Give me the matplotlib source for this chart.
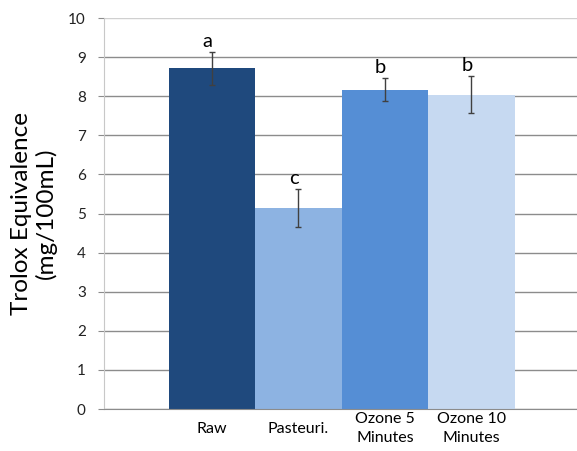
import matplotlib
matplotlib.use("Agg")
import matplotlib.pyplot as plt
import numpy as np

# ~~> data
categories = ['Raw', 'Pasteuri.', 'Ozone 5\nMinutes', 'Ozone 10\nMinutes']
values = [8.71, 5.15, 8.17, 8.04]
errors = [0.41, 0.49, 0.30, 0.47]
letters = ['a', 'c', 'b', 'b']
colors = ['#1F497D', '#8DB3E2', '#558ED5', '#C6D9F1']

plt.rcParams['font.family'] = ['Lato', 'DejaVu Sans']

fig = plt.figure(figsize=(5.77, 4.51), dpi=100)
ax = fig.add_axes([0.180, 0.093, 0.820, 0.867])

ind = np.arange(len(categories))
ax.bar(ind, values, width=1.0, color=colors, zorder=2)
ax.errorbar(ind, values, yerr=errors, fmt='none', ecolor='#404040',
            elinewidth=1.0, capsize=2.5, capthick=1.0, zorder=3)

for x, v, e, lab in zip(ind, values, errors, letters):
    ax.text(x - 0.05, v + e + 0.05, lab, ha='center', va='bottom',
            fontsize=14.5, color='black')

ax.set_xlim(-1.25, 4.22)
ax.set_ylim(0, 10)
ax.set_yticks(np.arange(0, 11, 1))
ax.yaxis.grid(True, color='#8C8C8C', linewidth=1.0, zorder=0)
ax.set_axisbelow(True)
gl = ax.get_ygridlines()
gl[-1].set_color('#D0D0D0')

for side in ['top', 'right']:
    ax.spines[side].set_visible(False)
ax.spines['left'].set_color('#C8C8C8')
ax.spines['bottom'].set_color('#8C8C8C')

ax.set_xticks(ind)
ax.set_xticklabels(categories, fontsize=11.5, linespacing=1.45)
for t in ax.get_xticklabels():
    t.set_verticalalignment('center')
ax.tick_params(axis='x', length=0, pad=14)
ax.tick_params(axis='y', length=4, color='#8C8C8C', labelsize=11,
               pad=9, labelcolor='#222222')

ax.set_ylabel('Trolox Equivalence\n(mg/100mL)', fontsize=17.5,
              linespacing=1.15, labelpad=8)

fig.savefig('out.png', dpi=100)
